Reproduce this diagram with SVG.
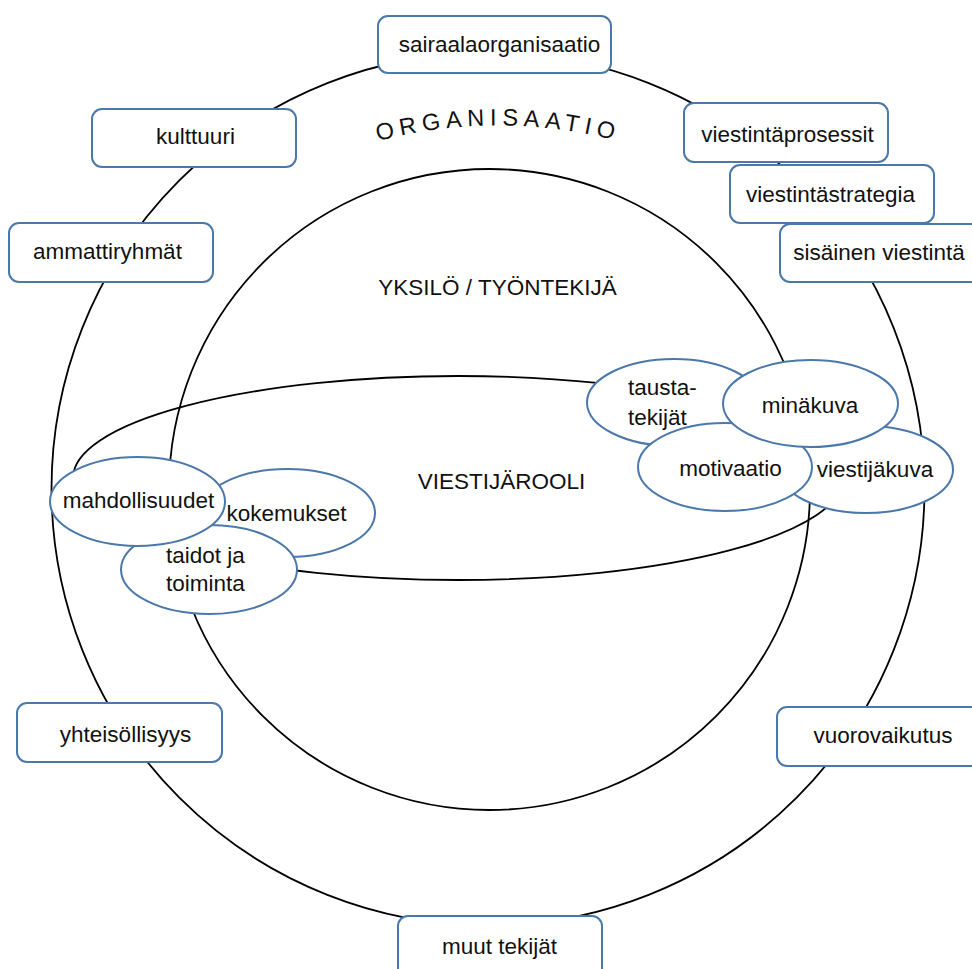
<svg xmlns="http://www.w3.org/2000/svg" width="972" height="969" viewBox="0 0 972 969">
<style>
  .ring { fill: none; stroke: #000; stroke-width: 1.8; }
  .box { fill: #fff; stroke: #4a78ab; stroke-width: 2; }
  .oval { fill: #fff; stroke: #4a78ab; stroke-width: 2; }
  text { font-family: "Liberation Sans", Arial, sans-serif; font-size: 22.5px; fill: #111; }
  .c { text-anchor: middle; }
  .big { font-size: 22.5px; }
  .arc { font-size: 23.5px; letter-spacing: 5.5px; }
</style>
<defs>
  <path id="orgArc" d="M 345 151 A 471 471 0 0 1 651 151" fill="none"/>
</defs>
<rect width="972" height="969" fill="#fff"/>

<g id="rings">
  <circle id="ring-organisaatio" class="ring" cx="488" cy="489" r="436.5"/>
  <circle id="ring-yksilo" class="ring" cx="489.5" cy="489.5" r="320.5"/>
  <ellipse id="ring-viestijarooli" class="ring" cx="458" cy="478" rx="385" ry="102"/>
</g>

<g id="ring-labels">
  <text class="arc"><textPath href="#orgArc" startOffset="50%" text-anchor="middle">ORGANISAATIO</textPath></text>
  <text class="c big" x="497.5" y="295">YKSILÖ / TYÖNTEKIJÄ</text>
  <text class="c big" x="501.5" y="489">VIESTIJÄROOLI</text>
</g>

<g id="connectors"></g>

<g id="node-sairaalaorganisaatio">
  <rect class="box" x="378" y="16" width="233" height="57" rx="10"/>
  <text class="c" x="499.5" y="52">sairaalaorganisaatio</text>
</g>
<g id="node-kulttuuri">
  <rect class="box" x="92" y="109" width="204" height="58" rx="10"/>
  <text class="c" x="195.5" y="144">kulttuuri</text>
</g>
<g id="node-ammattiryhmat">
  <rect class="box" x="9" y="223" width="204" height="59" rx="10"/>
  <text class="c" x="107.5" y="259">ammattiryhmät</text>
</g>
<g id="node-viestintaprosessit">
  <rect class="box" x="684" y="103" width="204" height="59" rx="10"/>
  <text class="c" x="787.5" y="142">viestintäprosessit</text>
</g>
<g id="node-viestintastrategia">
  <rect class="box" x="730" y="165" width="204" height="58" rx="10"/>
  <text class="c" x="830.5" y="202">viestintästrategia</text>
</g>
<g id="node-sisainen-viestinta">
  <rect class="box" x="780" y="224" width="204" height="58" rx="10"/>
  <text class="c" x="879" y="260">sisäinen viestintä</text>
</g>
<g id="node-yhteisollisyys">
  <rect class="box" x="17" y="703" width="205" height="59" rx="10"/>
  <text class="c" x="125.5" y="742">yhteisöllisyys</text>
</g>
<g id="node-vuorovaikutus">
  <rect class="box" x="777" y="707" width="206" height="59" rx="10"/>
  <text class="c" x="883" y="743">vuorovaikutus</text>
</g>
<g id="node-muut-tekijat">
  <rect class="box" x="398" y="916" width="204" height="62" rx="10"/>
  <text class="c" x="499.5" y="954">muut tekijät</text>
</g>

<g id="node-kokemukset">
  <ellipse class="oval" cx="287.5" cy="513" rx="87.5" ry="44"/>
  <text class="c" x="286.5" y="521">kokemukset</text>
</g>
<g id="node-taidot-ja-toiminta">
  <ellipse class="oval" cx="209" cy="569.5" rx="88" ry="44.5"/>
  <text x="166" y="563">taidot ja</text>
  <text x="166" y="591">toiminta</text>
</g>
<g id="node-mahdollisuudet">
  <ellipse class="oval" cx="137.5" cy="501.5" rx="87.5" ry="44.5"/>
  <text class="c" x="138.5" y="508">mahdollisuudet</text>
</g>

<g id="node-taustatekijat">
  <ellipse class="oval" cx="674" cy="402.5" rx="87" ry="43.5"/>
  <text x="628" y="395">tausta-</text>
  <text x="628" y="425">tekijät</text>
</g>
<g id="node-viestijakuva">
  <ellipse class="oval" cx="866" cy="469.5" rx="87" ry="43.5"/>
  <text class="c" x="875" y="477">viestijäkuva</text>
</g>
<g id="node-motivaatio">
  <ellipse class="oval" cx="725" cy="467" rx="87" ry="44"/>
  <text class="c" x="730.5" y="476">motivaatio</text>
</g>
<g id="node-minakuva">
  <ellipse class="oval" cx="810.5" cy="403.5" rx="87.5" ry="43.5"/>
  <text class="c" x="810" y="413">minäkuva</text>
</g>
</svg>
